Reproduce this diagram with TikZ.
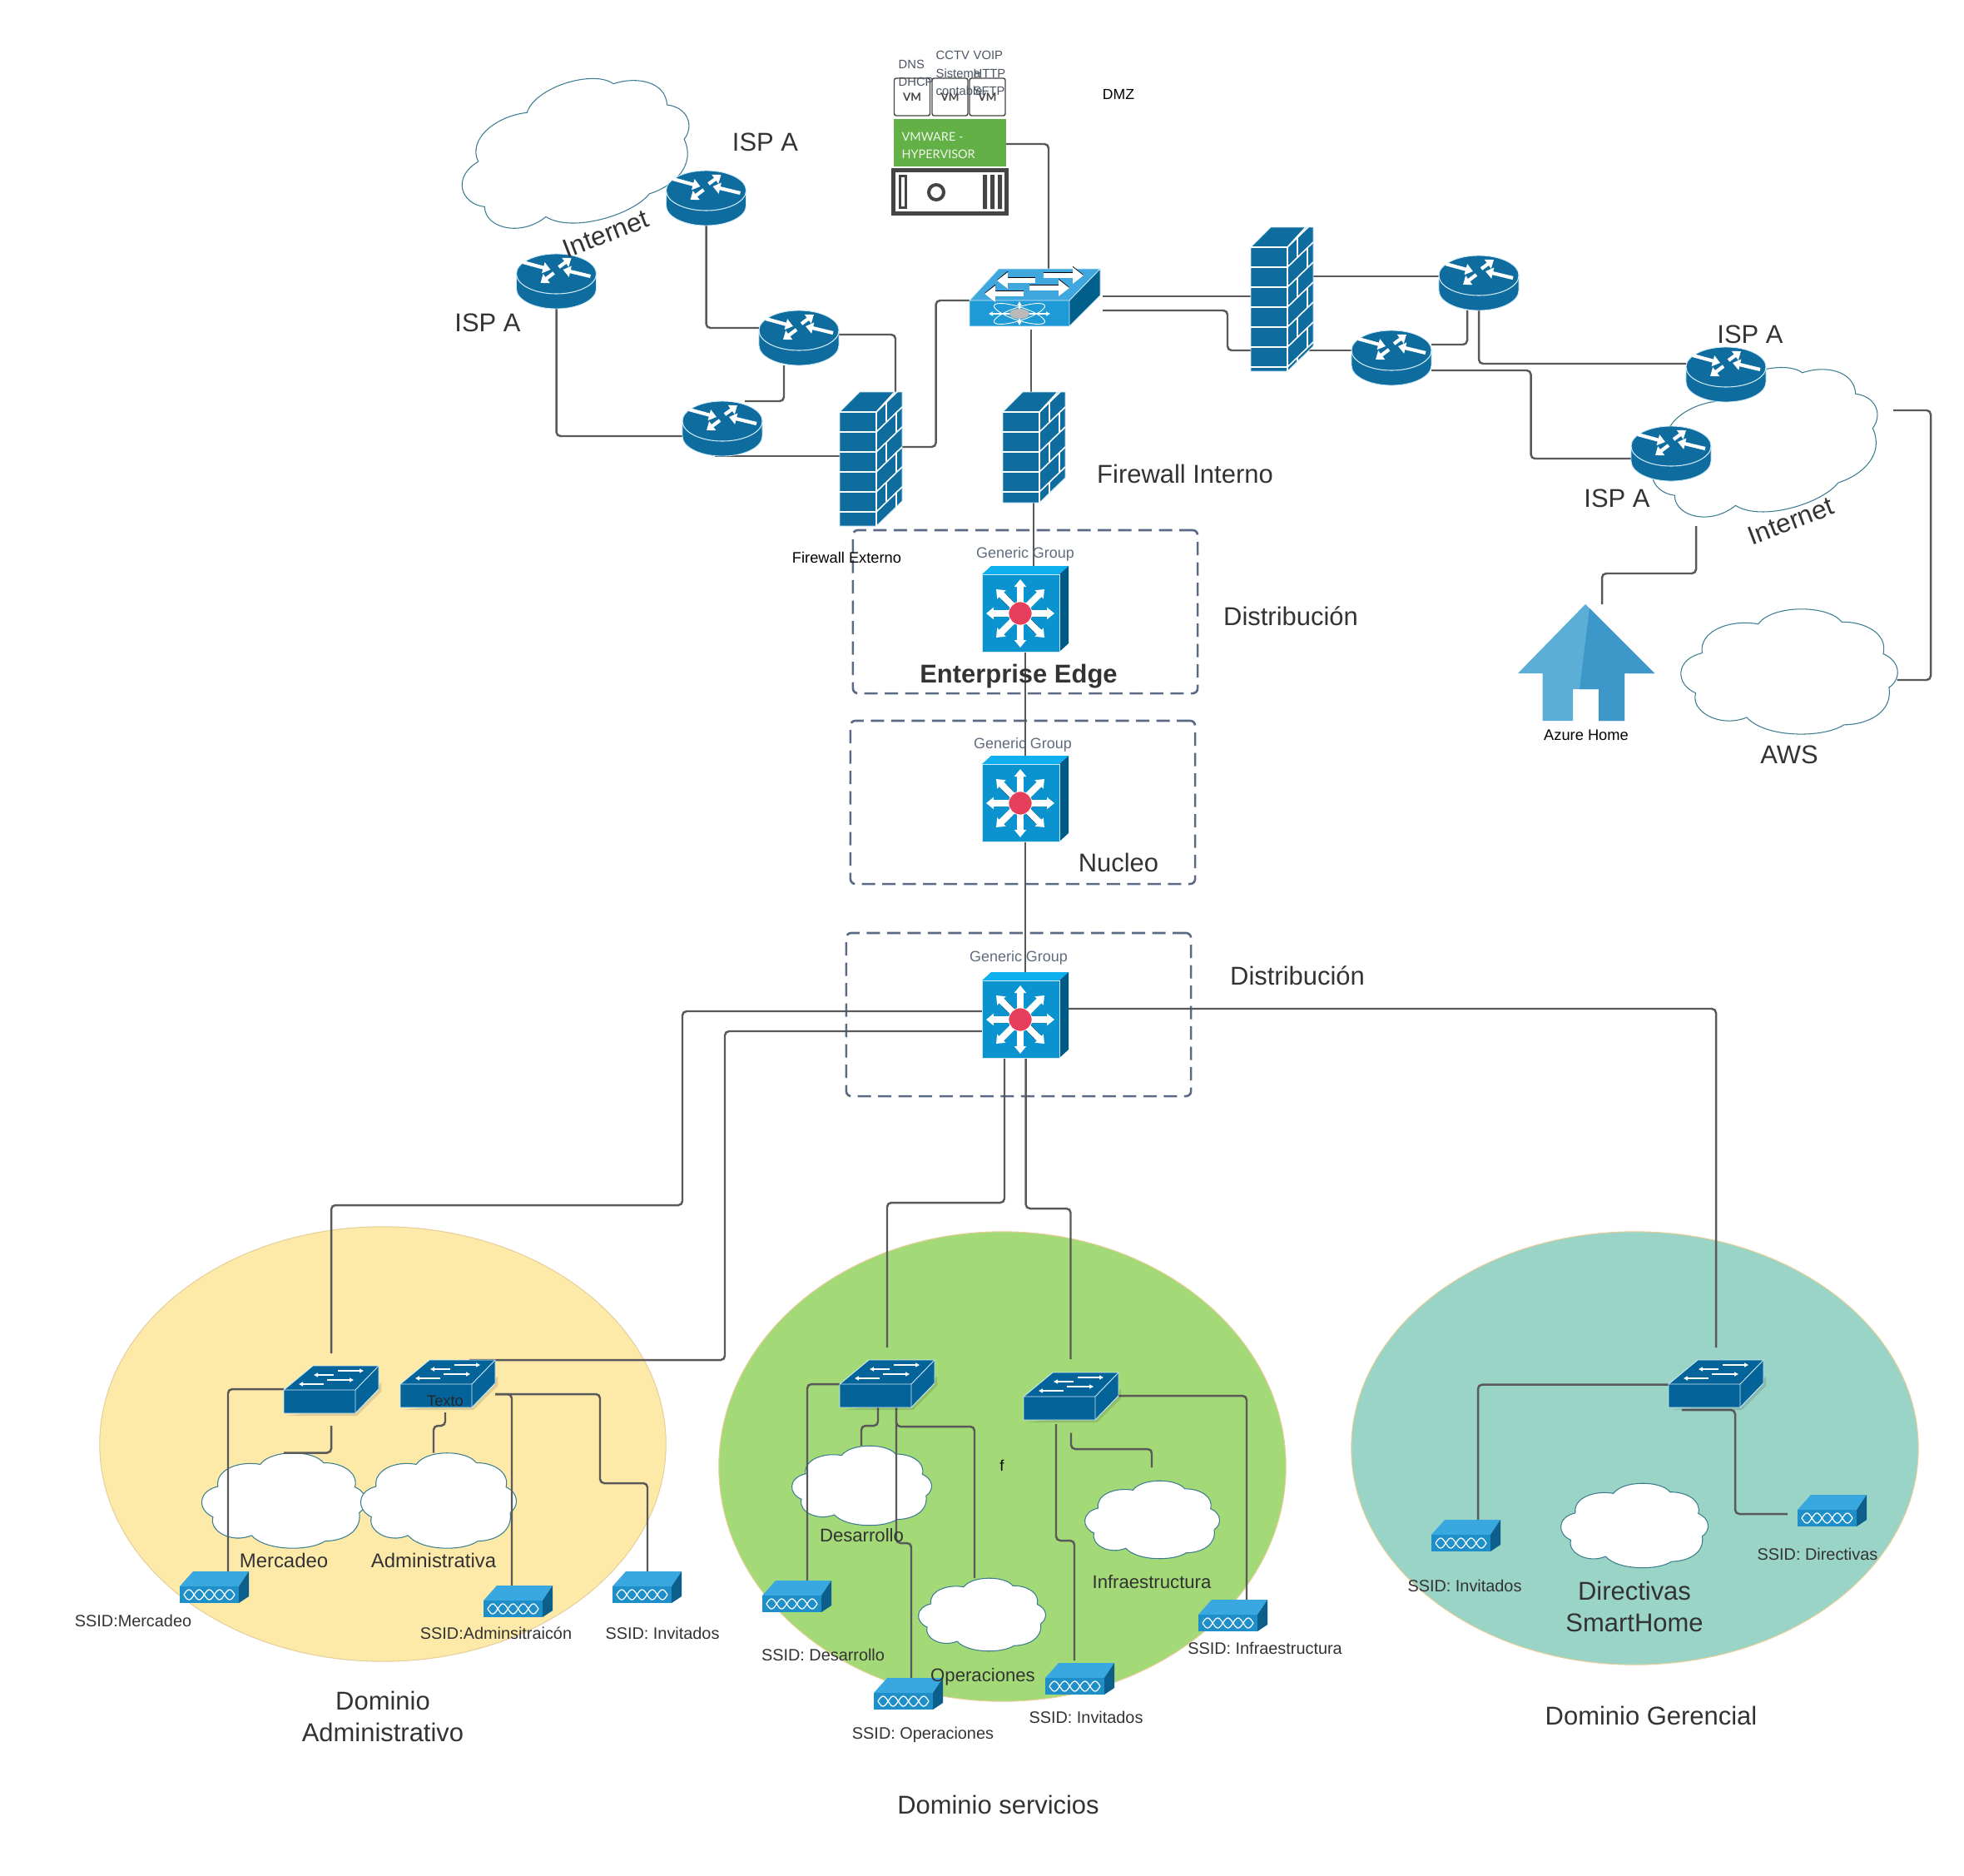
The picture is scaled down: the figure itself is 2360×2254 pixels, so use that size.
\documentclass[tikz,border=0pt]{standalone}
\usepackage{fontspec}
\setmainfont{Liberation Sans}
\newfontfamily\latofont{Lato}
\usetikzlibrary{arrows.meta,backgrounds,shapes.geometric}
\pgfdeclarelayer{wires}
\pgfsetlayers{background,wires,main}
\definecolor{cRouter}{HTML}{0F6C9F}
\definecolor{cSwitch}{HTML}{04649A}
\definecolor{cEdge}{HTML}{CFEAF6}
\definecolor{cWire}{HTML}{595959}
\definecolor{cGroup}{HTML}{5A6A84}
\definecolor{cGroupTxt}{HTML}{5F6B7C}
\definecolor{cVmTxt}{HTML}{4B5563}
\definecolor{cLabel}{HTML}{333333}
\definecolor{cCloud}{HTML}{3B7C8E}
\definecolor{cYellow}{HTML}{FDEAA9}
\definecolor{cGreen}{HTML}{A3D977}
\definecolor{cTeal}{HTML}{9AD4C6}
\definecolor{cBorder}{HTML}{E6CF9A}
\definecolor{cVm}{HTML}{63B146}
\definecolor{cServer}{HTML}{444444}
\definecolor{cAtomTop}{HTML}{3FA7DE}
\definecolor{cAtomFront}{HTML}{1E9AD6}
\definecolor{cAtomSide}{HTML}{015F8B}
\definecolor{cCoreTop}{HTML}{0FB0F0}
\definecolor{cCoreFront}{HTML}{0A93CF}
\definecolor{cCoreSide}{HTML}{005A87}
\definecolor{cCoreRed}{HTML}{E63F5C}
\definecolor{cApTop}{HTML}{3AA8E0}
\definecolor{cApFront}{HTML}{1E8FC9}
\definecolor{cApSide}{HTML}{0B5F8A}
\definecolor{cHomeL}{HTML}{5BAFD6}
\definecolor{cHomeR}{HTML}{3D97C9}
\tikzset{
	devbox/.style={inner sep=0pt, outer sep=0pt, anchor=north west},
	wire/.style={draw=cWire, line width=.7pt, rounded corners=.05cm},
	grupo/.style={draw=cGroup, line width=.75pt, dash pattern=on .16cm off .085cm, rounded corners=.06cm, minimum width=4.14cm, minimum height=1.96cm},
	dominio/.style={ellipse, draw=cBorder, line width=.3pt, inner sep=0pt},
	fatarrow/.style={white, line width=.042cm, -{Triangle[length=.09cm,width=.13cm]}},
	bigarrow/.style={white, line width=.06cm, -{Triangle[length=.13cm,width=.19cm]}},
	thinarrow/.style={white, line width=.012cm, -{Triangle[length=.05cm,width=.05cm]}},
	lbig/.style={font=\fontsize{8.8}{10.8}\selectfont, text=cLabel, inner sep=0pt},
	lmid/.style={font=\fontsize{6.3}{7.6}\selectfont, text=cLabel, inner sep=0pt, yshift=-.015cm},
	lssid/.style={font=\fontsize{5.65}{6.8}\selectfont, text=cLabel, inner sep=0pt, yshift=-.012cm},
	lblack/.style={font=\fontsize{5.2}{6.2}\selectfont, text=black, inner sep=0pt},
	lgroup/.style={font=\fontsize{5.1}{6.2}\selectfont, text=cGroupTxt, inner sep=0pt},
	lvm/.style={font=\fontsize{4.2}{6}\selectfont, text=cVmTxt, inner sep=0pt, anchor=west, align=left},
	vmbox/.style={draw=cServer, line width=.4pt, rounded corners=.025cm, fill=white, minimum width=.43cm, minimum height=.45cm, inner sep=0pt, font=\latofont\bfseries\fontsize{3.8}{4}\selectfont, text=cServer},
}
% args: name, x, y of the top left corner
\newcommand{\router}[3]{
	\node[devbox, minimum width=.96cm, minimum height=.66cm] (#1) at (#2,#3) {};
	\begin{scope}[shift={(#2,#3)}]
		\path[fill=cRouter, draw=cEdge, line width=.25pt] (0,24) arc[start angle=180, end angle=0, x radius=.48cm, y radius=.24cm] -- (96,42) arc[start angle=0, end angle=-180, x radius=.48cm, y radius=.24cm] -- cycle;
		\draw[cEdge, line width=.3pt] (0,24) arc[start angle=180, end angle=360, x radius=.48cm, y radius=.24cm];
		\foreach \xa/\ya/\xb/\yb in {8/10/41/19, 51/16/66/5, 89/27/56/19, 45/23/29/35}
			\draw[fatarrow] (\xa,\ya) -- (\xb,\yb);
	\end{scope}
}
% args: name, x, y, height
\newcommand{\firewall}[4]{
	\node[devbox, minimum width=.75cm, minimum height=#4*.01cm] (#1) at (#2,#3) {};
	\begin{scope}[shift={(#2,#3)}]
		\path[fill=cRouter, draw=cEdge, line width=.25pt] (0,24) -- (24,0) -- (75,0) -- (75,#4-30) -- (44,#4) -- (0,#4) -- cycle;
		\draw[white, line width=.45pt] (0,24) -- (44,24) -- (66,0) (44,24) -- (44,#4);
		\begin{scope}
			\clip (0,24) rectangle (44,#4);
			\foreach \k in {1,...,6}
				\draw[white, line width=.45pt] (0,24+24*\k) -- (44,24+24*\k);
		\end{scope}
		\begin{scope}
			\clip (44,24) -- (66,0) -- (75,0) -- (75,#4-30) -- (44,#4) -- cycle;
			\foreach \k in {0,...,6} {
				\draw[white, line width=.45pt] (44,24+24*\k) -- (75,24+24*\k-30);
				\pgfmathsetmacro{\bx}{isodd(\k) ? 68 : 56}
				\draw[white, line width=.45pt] (\bx,24+24*\k-\bx*30/31+44*30/31) -- ++(0,24);
			}
		\end{scope}
	\end{scope}
}
\newcommand{\swaccess}[3]{
	\node[devbox, minimum width=1.14cm, minimum height=.57cm] (#1) at (#2,#3) {};
	\begin{scope}[shift={(#2,#3)}]
		\fill[black, opacity=.12] (3,60) -- (88,60) -- (117,31) -- (117,20) -- (86,50) -- cycle;
		\path[fill=cSwitch, draw=cEdge, line width=.25pt] (0,29) -- (35,0) -- (114,0) -- (114,28) -- (86,57) -- (0,57) -- cycle;
		\draw[cEdge, line width=.25pt] (0,29) -- (86,29) -- (114,0) (86,29) -- (86,57);
		\foreach \xa/\ya/\xb/\yb in {65/6/96/6, 60/11/36/11, 52/17/84/17, 48/22/18/22}
			\draw[thinarrow] (\xa,\ya) -- (\xb,\yb);
	\end{scope}
}
\newcommand{\swatom}[3]{
	\node[devbox, minimum width=1.57cm, minimum height=.69cm] (#1) at (#2,#3) {};
	\begin{scope}[shift={(#2,#3)}]
		\fill[cAtomSide] (120,38) -- (157,0) -- (157,32) -- (120,69) -- cycle;
		\fill[cAtomTop] (0,38) -- (35,0) -- (157,0) -- (120,38) -- cycle;
		\fill[cAtomFront] (0,38) rectangle (120,69);
		\draw[cEdge, line width=.25pt] (0,38) -- (35,0) -- (157,0) -- (157,32) -- (120,69) -- (0,69) -- cycle (0,38) -- (120,38) -- (157,0) (120,38) -- (120,69);
		\foreach \xa/\ya/\xb/\yb in {89/8/137/8, 79/14/33/14, 72/23/120/23, 65/30/18/30} {
			\draw[black, line width=.064cm, -{Triangle[length=.13cm,width=.2cm]}] (\xa,\ya-.8) -- (\xb,\yb-.8);
			\draw[bigarrow] (\xa,\ya) -- (\xb,\yb);
		}
		\draw[white, line width=.25pt, rotate around={18:(60,54)}] (60,54) ellipse[x radius=.32cm, y radius=.08cm];
		\draw[white, line width=.25pt, rotate around={-18:(60,54)}] (60,54) ellipse[x radius=.32cm, y radius=.08cm];
		\foreach \xb/\yb in {23/54, 97/54, 60/39, 60/68}
			\draw[thinarrow] (60,54) -- (\xb,\yb);
		\fill[black!27] (60,54) ellipse[x radius=.12cm, y radius=.06cm];
	\end{scope}
}
\newcommand{\swcore}[3]{
	\node[devbox, minimum width=1.04cm, minimum height=1.03cm] (#1) at (#2,#3) {};
	\begin{scope}[shift={(#2,#3)}]
		\fill[cCoreTop] (0,10) -- (11,0) -- (104,0) -- (93,10) -- cycle;
		\fill[cCoreSide] (93,10) -- (104,0) -- (104,93) -- (93,103) -- cycle;
		\path[fill=cCoreFront, draw=cEdge, line width=.25pt] (0,10) rectangle (93,103);
		\foreach \ang in {45,225}
			\draw[black, line width=.084cm] (46.5,57.5) -- ++(\ang:28);
		\foreach \ang in {0,45,...,315}
			\draw[white, line width=.08cm, -{Triangle[length=.09cm,width=.14cm]}] (46,57) -- ++(\ang:41);
		\fill[cCoreRed, draw=white, line width=.2pt] (46,57) circle[radius=.14cm];
	\end{scope}
}
\newcommand{\apoint}[3]{
	\node[devbox, minimum width=.83cm, minimum height=.38cm] (#1) at (#2,#3) {};
	\begin{scope}[shift={(#2,#3)}]
		\fill[cApTop] (0,18) -- (16,0) -- (83,0) -- (71,18) -- cycle;
		\fill[cApSide] (71,18) -- (83,0) -- (83,30) -- (71,38) -- cycle;
		\fill[cApFront] (0,18) rectangle (71,38);
		\draw[white, line width=.35pt, domain=5:66, samples=61] plot ({\x},{28+6*sin(180*(\x-5)/12.2)});
		\draw[white, line width=.35pt, domain=5:66, samples=61] plot ({\x},{28-6*sin(180*(\x-5)/12.2)});
	\end{scope}
}
% args: name, centre x, centre y, width, height, angle
\newcommand{\nube}[6]{
	\node[inner sep=0pt, outer sep=0pt, minimum width=#4*.01cm, minimum height=#5*.01cm] (#1) at (#2,#3) {};
	\begin{scope}[on background layer, shift={(#2,#3)}, rotate=#6, xscale=#4, yscale=#5, shift={(-.5,-.5)}]
		\path[fill=white, draw=cCloud, line width=.3pt] (.096,.352)
			.. controls (.08,.18) and (.22,.08) .. (.356,.121)
			.. controls (.42,-.035) and (.68,-.035) .. (.744,.105)
			.. controls (.85,.10) and (.96,.2) .. (.936,.358)
			.. controls (1.02,.42) and (1.02,.56) .. (.963,.626)
			.. controls (.98,.82) and (.87,.92) .. (.753,.923)
			.. controls (.66,1.03) and (.39,1.03) .. (.303,.864)
			.. controls (.18,.95) and (.04,.82) .. (.066,.67)
			.. controls (-.03,.6) and (-.03,.40) .. (.096,.352) -- cycle;
	\end{scope}
}
\begin{document}
\begin{tikzpicture}[x=.01cm, y=-.01cm]
	\useasboundingbox (0,0) rectangle (2360,2254);
%	\draw[help lines, step=100] (0,0) grid (2360,2254);
	% dominios
	\begin{scope}[on background layer]
		\node[dominio, fill=cYellow, minimum width=6.8cm, minimum height=5.22cm] (dom_adm) at (460,1735) {};
		\node[dominio, fill=cGreen, minimum width=6.81cm, minimum height=5.64cm] (dom_serv) at (1204.5,1762) {};
		\node[dominio, fill=cTeal, minimum width=6.81cm, minimum height=5.2cm] (dom_ger) at (1964.5,1740) {};
	\end{scope}
	\nube{inet_a}{691}{185}{282}{170}{17}
	\nube{inet_b}{2120}{532}{280}{170}{17}
	\nube{aws}{2150}{807}{259}{151}{0}
	\nube{c_merc}{341}{1803}{196}{115}{0}
	\nube{c_adm}{527}{1803}{186}{115}{0}
	\nube{c_des}{1035.5}{1785}{167}{96}{0}
	\nube{c_inf}{1384.5}{1826}{161}{94}{0}
	\nube{c_op}{1180}{1940}{152}{88}{0}
	\nube{c_dir}{1964}{1833}{176}{102}{0}
	% equipos
	\router{isp_b}{800.5}{205}
	\router{isp_a}{620.5}{305}
	\router{edge_a}{912}{373}
	\router{edge_b}{820}{482}
	\router{r_top}{1729}{307}
	\router{r_low}{1624}{397}
	\router{isp_c}{2026}{417}
	\router{isp_d}{1960}{512}
	\firewall{fw_ext}{1009}{471}{161}
	\firewall{fw_int}{1205}{471}{133}
	\firewall{fw_r}{1503}{273}{173}
	\swatom{sw_top}{1165}{323}
	\swcore{core_a}{1180}{680}
	\swcore{core_b}{1180}{908}
	\swcore{core_c}{1180}{1168}
	\swaccess{sw_merc}{341}{1641}
	\swaccess{sw_adm}{481}{1634}
	\swaccess{sw_des}{1009}{1634}
	\swaccess{sw_inf}{1230}{1649}
	\swaccess{sw_dir}{2005}{1634}
	\apoint{ap_merc}{216}{1888}
	\apoint{ap_adm}{581}{1905}
	\apoint{ap_inv_a}{736}{1888}
	\apoint{ap_des}{916}{1899}
	\apoint{ap_op}{1050}{2016}
	\apoint{ap_inv_s}{1256}{1998}
	\apoint{ap_inf}{1440}{1922}
	\apoint{ap_inv_d}{1720}{1826}
	\apoint{ap_dir}{2160}{1796}
	% casa
	\node[devbox, minimum width=1.64cm, minimum height=1.4cm] (home) at (1824,726) {};
	\fill[cHomeL] (1905,726) -- (1988,809) -- (1952,809) -- (1952,866) -- (1921,866) -- (1921,828) -- (1890,828) -- (1890,866) -- (1853.5,866) -- (1853.5,809) -- (1824,809) -- cycle;
	\fill[cHomeR] (1910,731) -- (1988,809) -- (1952,809) -- (1952,866) -- (1921,866) -- (1921,828) -- (1898,828) -- cycle;
	% servidor
	\node[vmbox] (vm_a) at (1096,116.5) {VM};
	\node[vmbox] (vm_b) at (1141.5,116.5) {VM};
	\node[vmbox] (vm_c) at (1186.5,116.5) {VM};
	\node[fill=cVm, minimum height=.57cm, minimum width=1.35cm, inner sep=0pt, outer sep=0pt] (hipervisor) at (1141.5,171.5) {};
	\node[anchor=west, text=white!90!cVm, inner sep=0pt, align=left, font=\latofont\fontsize{4.1}{6}\selectfont] (txt_vmware) at (1083,174.5) {VMWARE -\\HYPERVISOR};
	\node[draw=cServer, line width=.05cm, minimum width=1.36cm, minimum height=.52cm, inner sep=0pt] (servidor) at (1141.5,230.5) {};
	\draw[cServer, line width=.03cm] (1081.5,211.5) rectangle (1088.5,249.5);
	\draw[cServer, line width=.04cm] (1125,231) circle[radius=.09cm];
	\fill[cServer] (1181,210) rectangle (1186,251) (1190,210) rectangle (1195,251) (1199,210) rectangle (1204,251);
	% grupos y enlaces
	\begin{pgfonlayer}{wires}
		\node[grupo] (gr_edge) at (1232,735) {};
		\node[grupo] (gr_nucleo) at (1229,964) {};
		\node[grupo] (gr_dist) at (1224,1219) {};
		\coordinate (dir_pt) at (2021,1694);
		\coordinate (inet_pt) at (2038,632);
		\coordinate (aws_pt) at (2275,493);
		\draw[wire] (isp_a.south) |- (edge_b.west |- 0,524);
		\draw[wire] (isp_b.south) |- (edge_a.west |- 0,394);
		\draw[wire] (edge_a.east |- 0,402) -| (fw_ext.north -| 1076,0);
		\draw[wire] (edge_a.south -| 942,0) |- (edge_b.north -| 895,0);
		\draw[wire] (edge_b.south -| 859,0) -- (fw_ext.west |- edge_b.south);
		\draw[wire] (fw_ext.east |- 0,537) -| (1124.6,361) -- (sw_top.west |- 0,361);
		\draw[wire] (hipervisor.east |- 0,173) -| (sw_top.north -| 1260,0);
		\draw[wire, shorten <=.04cm] (sw_top.south -| 1239,0) -- (fw_int.north -| 1239,0);
		\draw[wire] (fw_int.south -| 1242,0) -- (core_a.north -| 1242,0);
		\draw[wire] (core_a.south -| 1232,0) -- (core_b.north -| 1232,0);
		\draw[wire] (core_b.south -| 1232,0) -- (core_c.north -| 1232,0);
		\draw[wire, shorten >=.15cm] (core_c.west |- 0,1215) -| (820,1448) -| (sw_merc.north);
		\draw[wire] (core_c.west |- 0,1239) -| (871,1634) -- (sw_adm.north -| 564,0);
		\draw[wire, shorten >=.15cm] (core_c.south -| 1207,0) |- (1066,1445) -- (sw_des.north -| 1066,0);
		\draw[wire, shorten >=.16cm] (core_c.south -| 1232.6,0) |- (1286.5,1452) -- (sw_inf.north -| 1286.5,0);
		\draw[wire, shorten >=.15cm] (core_c.east |- 0,1212) -| (sw_dir.north -| 2062,0);
		\draw[wire] (sw_dir.west |- 0,1663.6) -| (ap_inv_d.north -| 1776,0);
		\draw[wire, shorten >=.12cm] (dir_pt) -| (2085,1819) -- (ap_dir.west |- 0,1819);
		\draw[wire] (sw_merc.west |- 0,1669) -| (ap_merc.north -| 274,0);
		\draw[wire, shorten <=.15cm] (sw_merc.south) |- (c_merc.north -| 341,0);
		\draw[wire, shorten <=.06cm] (sw_adm.south -| 535,0) |- (521,1713) -- (c_adm.north -| 521,0);
		\draw[wire] (sw_adm.east |- 0,1675) -| (721,1782) -| (ap_inv_a.north -| 778,0);
		\draw[wire] (sw_adm.east |- 0,1675) -| (ap_adm.north -| 615,0);
		\draw[wire] (sw_des.west |- 0,1663) -| (ap_des.north -| 970,0);
		\draw[wire] (sw_des.south -| 1055,0) |- (1035,1713) -- (c_des.north -| 1035,0);
		\draw[wire] (sw_des.south -| 1077,0) |- (1095,1854) -- (ap_op.north -| 1095,0);
		\draw[wire] (sw_des.south -| 1077,0) |- (1171,1714) -- (c_op.north -| 1171,0);
		\draw[wire] (sw_inf.east |- 0,1677) -| (ap_inf.north -| 1498,0);
		\draw[wire, shorten <=.05cm, shorten >=.03cm] (sw_inf.south -| 1269,0) |- (1291,1851) -- (ap_inv_s.north -| 1291,0);
		\draw[wire, shorten <=.155cm, shorten >=.16cm] (sw_inf.south -| 1287,0) |- (1384,1741) -- (c_inf.north -| 1384,0);
		\draw[wire, shorten <=.03cm] (sw_top.east |- 0,356) -- (fw_r.west |- 0,356);
		\draw[wire, shorten <=.03cm] (sw_top.east |- 0,373) -| (1475,421) -- (fw_r.west |- 0,421);
		\draw[wire] (fw_r.east |- 0,332) -- (r_top.west |- 0,332);
		\draw[wire, shorten <=-.07cm] (fw_r.east |- 0,421) -- (r_low.west |- 0,421);
		\draw[wire] (r_low.east |- 0,414) -| (r_top.south -| 1763,0);
		\draw[wire] (r_top.south -| 1777,0) |- (isp_c.west |- 0,437);
		\draw[wire] (r_low.east |- 0,445) -| (1839.5,551) -- (isp_d.west |- 0,551);
		\draw[wire] (inet_pt) |- (1925,689) -- (home.north -| 1925,0);
		\draw[wire] (aws.east |- 0,817) -| (2320,493) -- (aws_pt);
	\end{pgfonlayer}
	% textos
	\node[lvm] (txt_dns) at (1079,87.5) {DNS\\DHCP};
	\node[lvm] (txt_cctv) at (1124,88) {CCTV\\Sistema\\contable};
	\node[lvm] (txt_voip) at (1169,88) {VOIP\\HTTP\\SFTP};
	\node[lblack, font=\fontsize{5}{6}\selectfont] (txt_dmz) at (1344,113) {DMZ};
	\node[lbig] (txt_isp_b) at (919.5,171) {ISP A};
	\node[lbig] (txt_isp_a) at (586,388) {ISP A};
	\node[lbig] (txt_isp_c) at (2103,402) {ISP A};
	\node[lbig] (txt_isp_d) at (1943,599) {ISP A};
	\node[lbig, rotate=21, font=\fontsize{9}{11}\selectfont] (txt_inet_a) at (728,281) {Internet};
	\node[lbig, rotate=21, font=\fontsize{9}{11}\selectfont] (txt_inet_b) at (2152,626) {Internet};
	\node[lblack] (txt_fw_ext) at (1017.5,670) {Firewall Externo};
	\node[lbig] (txt_fw_int) at (1424,569) {Firewall Interno};
	\node[lbig] (txt_dist_a) at (1551,740) {Distribución};
	\node[lbig] (txt_dist_b) at (1559,1172) {Distribución};
	\node[lbig] (txt_nucleo) at (1344,1036) {Nucleo};
	\node[lbig, font=\bfseries\fontsize{8.8}{10.8}\selectfont] (txt_edge) at (1224,813) {Enterprise Edge};
	\node[lgroup] (txt_gr_a) at (1232,666) {Generic Group};
	\node[lgroup] (txt_gr_b) at (1229,895) {Generic Group};
	\node[lgroup] (txt_gr_c) at (1224,1151) {Generic Group};
	\node[lblack] (txt_home) at (1906,883) {Azure Home};
	\node[lbig] (txt_aws) at (2150,907) {AWS};
	\node[lmid, font=\fontsize{6.8}{8}\selectfont] (txt_merc) at (341,1873) {Mercadeo};
	\node[lmid, font=\fontsize{6.8}{8}\selectfont] (txt_adm) at (521,1873) {Administrativa};
	\node[lmid] (txt_des) at (1035.5,1843) {Desarrollo};
	\node[lmid] (txt_op) at (1181,2013) {Operaciones};
	\node[lmid] (txt_inf) at (1384,1899) {Infraestructura};
	\node[lblack] (txt_f) at (1204,1761) {f};
	\node[lblack, text=black!85] (txt_texto) at (535,1683) {Texto};
	\node[lssid] (ss_merc) at (160,1946) {SSID:Mercadeo};
	\node[lssid] (ss_adm) at (596,1961) {SSID:Adminsitraicón};
	\node[lssid] (ss_inv_a) at (796,1961) {SSID: Invitados};
	\node[lssid] (ss_des) at (989,1987) {SSID: Desarrollo};
	\node[lssid] (ss_op) at (1109,2083) {SSID: Operaciones};
	\node[lssid] (ss_inv_s) at (1305,2062) {SSID: Invitados};
	\node[lssid] (ss_inf) at (1520,1979) {SSID: Infraestructura};
	\node[lssid] (ss_inv_d) at (1760,1904) {SSID: Invitados};
	\node[lssid] (ss_dir) at (2184,1866.6) {SSID: Directivas};
	\node[lbig, align=center] (txt_dom_adm) at (460,2062) {Dominio\\Administrativo};
	\node[lbig] (txt_dom_serv) at (1199.5,2168.5) {Dominio servicios};
	\node[lbig] (txt_dom_ger) at (1984,2061) {Dominio Gerencial};
	\node[lbig, align=center] (txt_dir) at (1964,1930) {Directivas\\SmartHome};
\end{tikzpicture}
\end{document}
